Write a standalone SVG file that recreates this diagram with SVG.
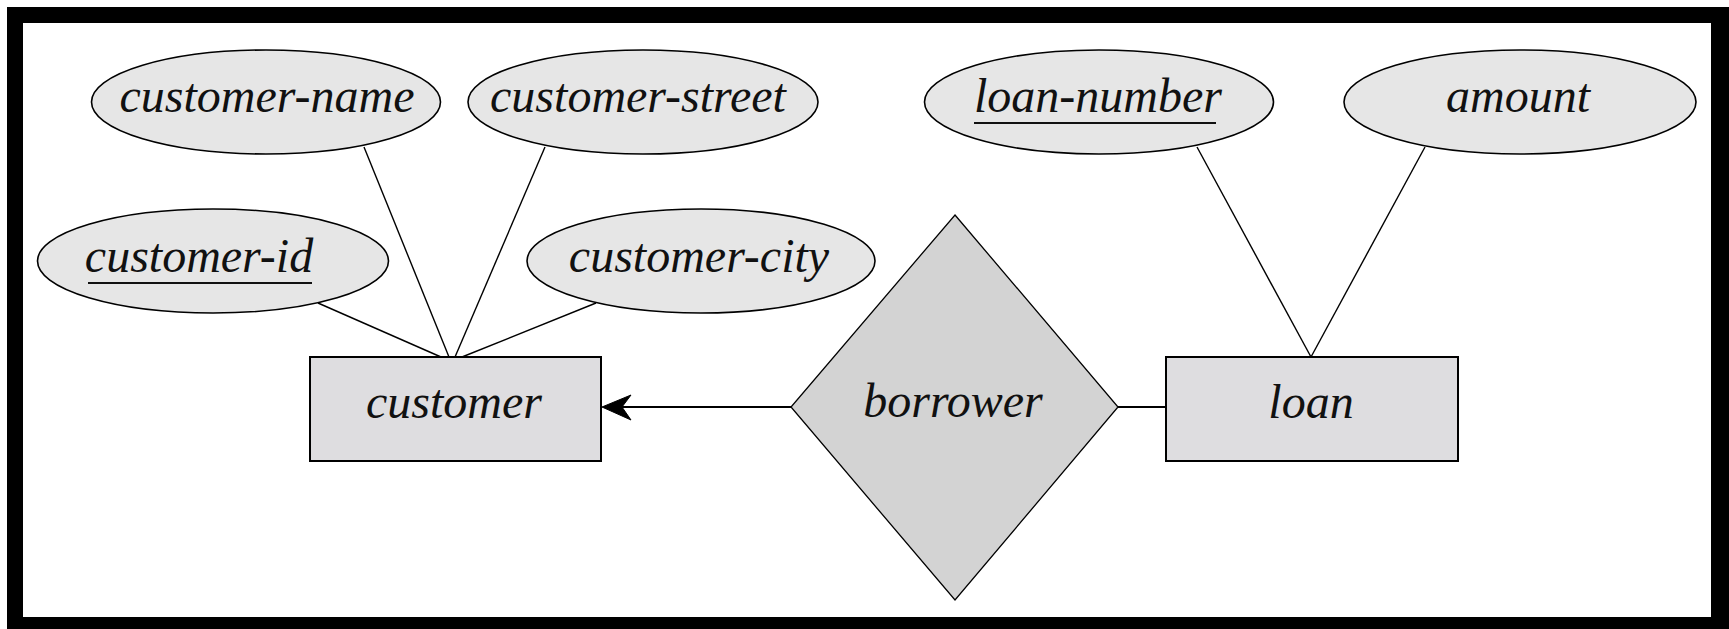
<svg xmlns="http://www.w3.org/2000/svg" width="1729" height="629" viewBox="0 0 1729 629">
<style>
.attr{fill:#e6e6e6;stroke:#000;stroke-width:1.6}
.ent{fill:#dedde0;stroke:#000;stroke-width:2}
.rel{fill:#d3d3d3;stroke:#000;stroke-width:1.3}
.lbl{font-family:"Liberation Serif",serif;font-style:italic;font-size:48px;fill:#111;text-anchor:middle}
.ul{stroke:#111;stroke-width:2}
.conn line{stroke:#000;stroke-width:1.4}
.conn .rl{stroke-width:2}
</style>
<rect x="0" y="0" width="1729" height="629" fill="#fff"/>
<path d="M7 7H1729V629H7Z M23 23V617H1711V23Z" fill="#000" fill-rule="evenodd"/>
<g id="connectors" class="conn">
<line x1="364" y1="147" x2="449" y2="357"/>
<line x1="545" y1="147" x2="455" y2="357"/>
<line x1="318" y1="303" x2="441" y2="357"/>
<line x1="596" y1="303" x2="462" y2="357"/>
<line x1="1197" y1="147" x2="1311" y2="357"/>
<line x1="1425" y1="147" x2="1311" y2="357"/>
<line class="rl" x1="791" y1="407" x2="612" y2="407"/>
<path d="M602 407L631 395L622 407L631 420Z" fill="#000" stroke="#000" stroke-width="1"/>
<line class="rl" x1="1118" y1="407" x2="1166" y2="407"/>
</g>
<g id="customer-name">
<ellipse class="attr" cx="266" cy="102" rx="174.5" ry="52"/>
<text class="lbl" x="267" y="112">customer-name</text>
</g>
<g id="customer-street">
<ellipse class="attr" cx="643" cy="102" rx="175" ry="52"/>
<text class="lbl" x="638" y="112">customer-street</text>
</g>
<g id="customer-id">
<ellipse class="attr" cx="213" cy="261" rx="175.5" ry="52"/>
<text class="lbl" x="199" y="272">customer-id</text>
<line class="ul" x1="88" y1="283" x2="312" y2="283"/>
</g>
<g id="customer-city">
<ellipse class="attr" cx="701" cy="261" rx="174" ry="52"/>
<text class="lbl" x="699" y="272">customer-city</text>
</g>
<g id="loan-number">
<ellipse class="attr" cx="1099" cy="102" rx="174.5" ry="52"/>
<text class="lbl" x="1098" y="112">loan-number</text>
<line class="ul" x1="974" y1="123" x2="1216" y2="123"/>
</g>
<g id="amount">
<ellipse class="attr" cx="1520" cy="102" rx="176" ry="52"/>
<text class="lbl" x="1518" y="112">amount</text>
</g>
<g id="customer">
<rect class="ent" x="310" y="357" width="291" height="104"/>
<text class="lbl" x="454" y="418">customer</text>
</g>
<g id="borrower">
<polygon class="rel" points="955,215 1118,407 955,600 791,407"/>
<text class="lbl" x="953" y="417">borrower</text>
</g>
<g id="loan">
<rect class="ent" x="1166" y="357" width="292" height="104"/>
<text class="lbl" x="1311" y="418">loan</text>
</g>
</svg>
